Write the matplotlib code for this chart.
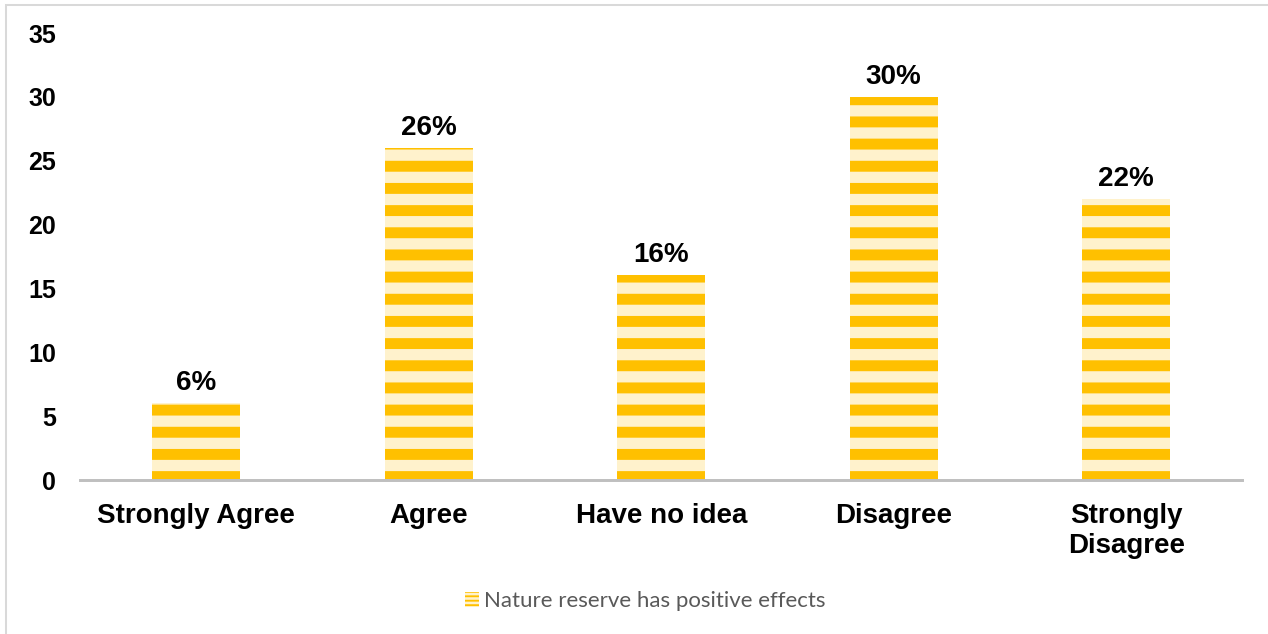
import matplotlib.pyplot as plt
from matplotlib.patches import Rectangle, Patch

categories = ['Strongly Agree', 'Agree', 'Have no idea', 'Disagree', 'Strongly\nDisagree']
values = [6, 26, 16, 30, 22]
series_name = 'Nature reserve has positive effects'
yticks = [0, 5, 10, 15, 20, 25, 30, 35]

gold = '#FFC000'
cream = '#FFF2CC'

dpi = 400 / 3
plt.rcParams['font.family'] = ['Liberation Sans', 'DejaVu Sans']
plt.rcParams['hatch.linewidth'] = 5.9

fig = plt.figure(figsize=(1268.4 / dpi, 634.4 / dpi), dpi=dpi)
ax = fig.add_axes([80 / 1268, 1 - 480 / 634, (1242 - 80) / 1268, (480 - 33) / 634])

x = range(len(categories))
bars = ax.bar(x, values, width=0.38, color=cream, edgecolor=gold, linewidth=0, hatch='-')
ax.bar_label(bars, labels=[f'{v}%' for v in values], padding=4,
             fontsize=15, fontweight='bold')

ax.set_xlim(-0.5, len(categories) - 0.5)
ax.set_ylim(0, 35)
ax.set_yticks(yticks)
ax.set_xticks(list(x))
ax.set_xticklabels(categories, fontsize=15, fontweight='bold', linespacing=1.2)
for t in ax.get_yticklabels():
    t.set_fontsize(13.5)
    t.set_fontweight('bold')
ax.tick_params(axis='both', length=0)
ax.tick_params(axis='x', pad=12)
ax.tick_params(axis='y', pad=13)
for s in ['top', 'right', 'left']:
    ax.spines[s].set_visible(False)
ax.spines['bottom'].set_color('#BFBFBF')
ax.spines['bottom'].set_linewidth(1.6)

# legend with finer stripes in the key
with plt.rc_context({'hatch.linewidth': 1.0}):
    handle = Patch(facecolor=cream, edgecolor=gold, linewidth=0, hatch='-----')
    fig.legend([handle], [series_name], loc='center',
               bbox_to_anchor=(645 / 1268, 1 - 601 / 634), frameon=False,
               prop={'family': 'Lato', 'size': 12}, labelcolor='#595959',
               handlelength=0.65, handleheight=0.65, handletextpad=0.2)

# chart area border
fig.add_artist(Rectangle((6 / 1268, -0.1), 2, 1.1 - 5 / 634, transform=fig.transFigure,
                         fill=False, edgecolor='#D9D9D9', linewidth=1.1))

fig.savefig('out.png', dpi=dpi)
